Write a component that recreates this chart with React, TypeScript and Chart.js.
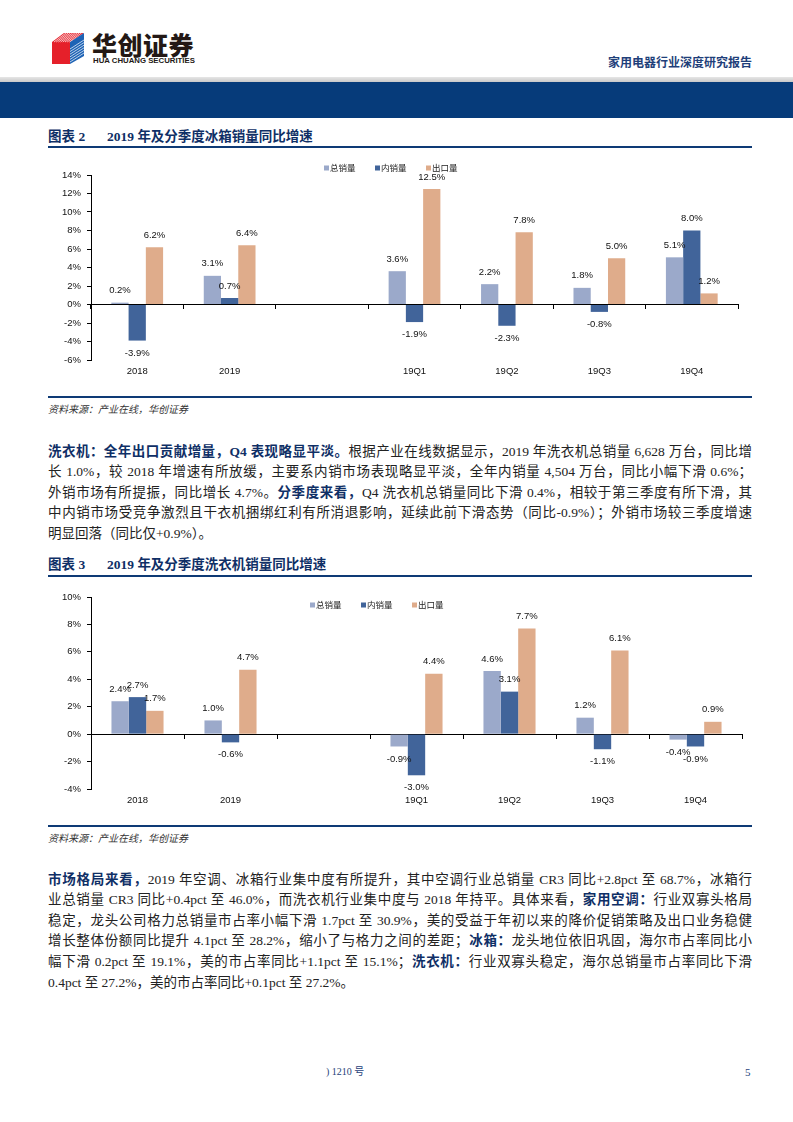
import React, { useEffect, useRef } from "react";
import { Chart, registerables } from "chart.js";

Chart.register(...registerables);

// ---------- data ----------
const seriesNames = ["总销量", "内销量", "出口量"];
const seriesColors = ["#9BA9CA", "#41649A", "#DFAC8B"];

const fridgeCategories = ["2018", "2019", "", "19Q1", "19Q2", "19Q3", "19Q4"];
const fridgeTotal = [0.2, 3.1, null, 3.6, 2.2, 1.8, 5.1];
const fridgeDomestic = [-3.9, 0.7, null, -1.9, -2.3, -0.8, 8.0];
const fridgeExport = [6.2, 6.4, null, 12.5, 7.8, 5.0, 1.2];
const fridgeAxis = [-6, 14, 2];

const washerCategories = ["2018", "2019", "", "19Q1", "19Q2", "19Q3", "19Q4"];
const washerTotal = [2.4, 1.0, null, -0.9, 4.6, 1.2, -0.4];
const washerDomestic = [2.7, -0.6, null, -3.0, 3.1, -1.1, -0.9];
const washerExport = [1.7, 4.7, null, 4.4, 7.7, 6.1, 0.9];
const washerAxis = [-4, 10, 2];

type Seg = [string, boolean?];

const para1: Seg[][] = [
  [["洗衣机：全年出口贡献增量，Q4 表现略显平淡。", true], ["根据产业在线数据显示，2019 年洗衣机总销量 6,628 万台，同比增"]],
  [["长 1.0%，较 2018 年增速有所放缓，主要系内销市场表现略显平淡，全年内销量 4,504 万台，同比小幅下滑 0.6%；"]],
  [["外销市场有所提振，同比增长 4.7%。"], ["分季度来看，", true], ["Q4 洗衣机总销量同比下滑 0.4%，相较于第三季度有所下滑，其"]],
  [["中内销市场受竞争激烈且干衣机捆绑红利有所消退影响，延续此前下滑态势（同比-0.9%）；外销市场较三季度增速"]],
  [["明显回落（同比仅+0.9%）。"]],
];

const para2: Seg[][] = [
  [["市场格局来看，", true], ["2019 年空调、冰箱行业集中度有所提升，其中空调行业总销量 CR3 同比+2.8pct 至 68.7%，冰箱行"]],
  [["业总销量 CR3 同比+0.4pct 至 46.0%，而洗衣机行业集中度与 2018 年持平。具体来看，"], ["家用空调：", true], ["行业双寡头格局"]],
  [["稳定，龙头公司格力总销量市占率小幅下滑 1.7pct 至 30.9%，美的受益于年初以来的降价促销策略及出口业务稳健"]],
  [["增长整体份额同比提升 4.1pct 至 28.2%，缩小了与格力之间的差距；"], ["冰箱：", true], ["龙头地位依旧巩固，海尔市占率同比小"]],
  [["幅下滑 0.2pct 至 19.1%，美的市占率同比+1.1pct 至 15.1%；"], ["洗衣机：", true], ["行业双寡头稳定，海尔总销量市占率同比下滑"]],
  [["0.4pct 至 27.2%，美的市占率同比+0.1pct 至 27.2%。"]],
];

// ---------- plugins ----------
const barLabelPlugin = {
  id: "barLabels",
  afterDatasetsDraw(chart: any) {
    const ctx = chart.ctx;
    ctx.save();
    ctx.font = "9.5px 'Liberation Sans', Arial, sans-serif";
    ctx.fillStyle = "#111";
    ctx.textAlign = "center";
    ctx.textBaseline = "middle";
    chart.data.datasets.forEach((ds: any, i: number) => {
      const meta = chart.getDatasetMeta(i);
      meta.data.forEach((el: any, j: number) => {
        const v = ds.data[j];
        if (v === null || v === undefined) return;
        const y = v >= 0 ? el.y - 12 : el.y + 12.5;
        ctx.fillText(v.toFixed(1) + "%", el.x, y);
      });
    });
    ctx.restore();
  },
};

const miniLegendPlugin = {
  id: "miniLegend",
  afterDraw(chart: any, _args: any, opts: any) {
    const { ctx, chartArea } = chart;
    ctx.save();
    ctx.font = "8.5px 'Noto Sans CJK SC', sans-serif";
    ctx.textBaseline = "middle";
    ctx.textAlign = "left";
    chart.data.datasets.forEach((ds: any, i: number) => {
      const x = chartArea.left + opts.x + i * opts.gap;
      const y = chartArea.top + opts.y;
      ctx.fillStyle = ds.backgroundColor;
      ctx.fillRect(x, y - 2.5, 5, 5);
      ctx.fillStyle = "#222";
      ctx.fillText(ds.label, x + 6, y);
    });
    ctx.restore();
  },
};

// ---------- chart component ----------
type ChartProps = {
  categories: string[];
  values: (number | null)[][];
  axis: number[];
  box: { left: number; top: number; width: number; height: number };
  pad: { left: number; right: number; top: number };
  xAxisHeight: number;
  legend: { x: number; y: number; gap: number };
};

function GrowthBarChart({ categories, values, axis, box, pad, xAxisHeight, legend }: ChartProps) {
  const ref = useRef<HTMLCanvasElement | null>(null);
  useEffect(() => {
    if (!ref.current) return;
    const tickFont = { family: "'Liberation Sans', Arial, sans-serif", size: 9.5 };
    const chart = new Chart(ref.current, {
      type: "bar",
      data: {
        labels: categories,
        datasets: values.map((v, i) => ({
          label: seriesNames[i],
          data: v,
          backgroundColor: seriesColors[i],
          borderWidth: 0,
          xAxisID: "x",
          yAxisID: "y",
          categoryPercentage: 0.56,
          barPercentage: 1.0,
        })),
      },
      options: {
        animation: false,
        responsive: true,
        maintainAspectRatio: false,
        layout: { padding: { left: pad.left, right: pad.right, top: pad.top, bottom: 0 } },
        plugins: {
          legend: { display: false },
          tooltip: { enabled: false },
          miniLegend: legend,
        } as any,
        scales: {
          x: {
            type: "category",
            position: "bottom",
            offset: true,
            grid: { display: false, drawTicks: false },
            border: { display: false },
            ticks: { font: tickFont, color: "#111", padding: 6, maxRotation: 0, autoSkip: false },
            afterFit: (s: any) => {
              s.height = xAxisHeight;
            },
          },
          x2: {
            type: "category",
            axis: "x",
            labels: categories,
            position: { y: 0 },
            offset: true,
            grid: { offset: true, drawOnChartArea: false, drawTicks: true, tickLength: 4, color: "#000" },
            border: { display: true, color: "#000", width: 1 },
            ticks: { display: false },
          },
          y: {
            min: axis[0],
            max: axis[1],
            grid: { drawOnChartArea: false, drawTicks: true, tickLength: 4, color: "#000" },
            border: { display: true, color: "#000", width: 1 },
            ticks: {
              stepSize: axis[2],
              font: tickFont,
              color: "#111",
              padding: 6,
              callback: (v: any) => v + "%",
            },
            afterFit: (s: any) => {
              s.width = 40;
            },
          },
        } as any,
      },
      plugins: [barLabelPlugin, miniLegendPlugin],
    });
    return () => chart.destroy();
  }, []);
  return (
    <div style={{ position: "absolute", left: box.left, top: box.top, width: box.width, height: box.height }}>
      <canvas ref={ref} />
    </div>
  );
}

// ---------- page pieces ----------
const navy = "#0F2F66";
const bodyFont = "'Liberation Serif', 'Noto Sans CJK SC', serif";

function Paragraph({ lines, top }: { lines: Seg[][]; top: number }) {
  return (
    <div style={{ position: "absolute", left: 48, top, width: 704, fontFamily: bodyFont, fontSize: 13.5, color: "#222" }}>
      {lines.map((line, i) => (
        <div
          key={i}
          style={{
            height: 20.6,
            lineHeight: "20.6px",
            whiteSpace: "nowrap",
            textAlign: i === lines.length - 1 ? "left" : "justify",
            textAlignLast: i === lines.length - 1 ? "left" : "justify",
          } as any}
        >
          {line.map((seg, k) =>
            seg[1] ? (
              <span key={k} style={{ fontWeight: "bold", color: navy }}>
                {seg[0]}
              </span>
            ) : (
              <span key={k}>{seg[0]}</span>
            )
          )}
        </div>
      ))}
    </div>
  );
}

function FigureTitle({ num, text, top }: { num: string; text: string; top: number }) {
  return (
    <div
      style={{
        position: "absolute",
        left: 48,
        top,
        height: 18,
        lineHeight: "18px",
        fontFamily: bodyFont,
        fontWeight: "bold",
        fontSize: 13.5,
        color: navy,
        whiteSpace: "nowrap",
      }}
    >
      <span>图表 {num}</span>
      <span style={{ position: "absolute", left: 59 }}>{text}</span>
    </div>
  );
}

function Rule({ top }: { top: number }) {
  return <div style={{ position: "absolute", left: 48, top, width: 704, height: 2, background: "#0E3A75" }} />;
}

function Source({ top }: { top: number }) {
  return (
    <div
      style={{
        position: "absolute",
        left: 48,
        top,
        fontFamily: "'Noto Sans CJK SC', sans-serif",
        fontStyle: "italic",
        fontSize: 10,
        lineHeight: "12px",
        color: "#333",
        whiteSpace: "nowrap",
      }}
    >
      资料来源：产业在线，华创证券
    </div>
  );
}

function Logo() {
  return (
    <div style={{ position: "absolute", left: 50, top: 30, width: 160, height: 40 }}>
      <svg width={36} height={36} viewBox="0 0 36 36" style={{ position: "absolute", left: 0, top: 2 }}>
        <polygon points="2,10 20,10 20,32 2,32" fill="#E5202A" />
        <polygon points="2,10 14,1 34,1 20,10" fill="#E5202A" />
        <polygon points="20,10 34,1 34,24 20,32" fill="#1E63B5" />
        {Array.from({ length: 8 }).map((_, i) => (
          <line key={i} x1={4 + i * 2.2} y1={10} x2={16 + i * 2.2} y2={1} stroke="#fff" strokeWidth={0.7} />
        ))}
        {Array.from({ length: 6 }).map((_, i) => (
          <line key={"b" + i} x1={20} y1={17 + i * 2.6} x2={34} y2={8 + i * 2.6} stroke="#fff" strokeWidth={0.7} />
        ))}
      </svg>
      <div
        style={{
          position: "absolute",
          left: 42,
          top: 0,
          fontFamily: "'Noto Sans CJK SC', sans-serif",
          fontWeight: 900,
          fontSize: 25,
          lineHeight: "28px",
          color: "#231815",
          letterSpacing: 0.5,
          whiteSpace: "nowrap",
        }}
      >
        华创证券
      </div>
      <div
        style={{
          position: "absolute",
          left: 43,
          top: 26,
          fontFamily: "'Liberation Sans Narrow', 'Liberation Sans', Arial, sans-serif",
          fontWeight: "bold",
          fontSize: 7.8,
          lineHeight: "10px",
          color: "#231815",
          whiteSpace: "nowrap",
        }}
      >
        HUA CHUANG SECURITIES
      </div>
    </div>
  );
}

export default function App() {
  return (
    <div
      style={{
        position: "absolute",
        left: 0,
        top: 0,
        width: 793,
        height: 1122,
        background: "#fff",
        overflow: "hidden",
      }}
    >
      <Logo />
      <div
        style={{
          position: "absolute",
          right: 41,
          top: 54,
          fontFamily: "'Noto Sans CJK SC', sans-serif",
          fontWeight: "bold",
          fontSize: 12,
          lineHeight: "16px",
          color: "#1F3F7A",
          whiteSpace: "nowrap",
        }}
      >
        家用电器行业深度研究报告
      </div>
      <div style={{ position: "absolute", left: 0, top: 77, width: 793, height: 5, background: "linear-gradient(#e6e6e6,#c8c8c8)" }} />
      <div style={{ position: "absolute", left: 0, top: 82, width: 793, height: 36, background: "#063B7A" }} />

      <FigureTitle num="2" text="2019 年及分季度冰箱销量同比增速" top={128} />
      <Rule top={146} />
      <GrowthBarChart
        categories={fridgeCategories}
        values={[fridgeTotal, fridgeDomestic, fridgeExport]}
        axis={fridgeAxis}
        box={{ left: 40, top: 160, width: 720, height: 225 }}
        pad={{ left: 11, right: 22, top: 15 }}
        xAxisHeight={25}
        legend={{ x: 233, y: -7, gap: 51 }}
      />
      <Rule top={396} />
      <Source top={403} />

      <Paragraph lines={para1} top={441.5} />

      <FigureTitle num="3" text="2019 年及分季度洗衣机销量同比增速" top={556} />
      <Rule top={575} />
      <GrowthBarChart
        categories={washerCategories}
        values={[washerTotal, washerDomestic, washerExport]}
        axis={washerAxis}
        box={{ left: 40, top: 580, width: 720, height: 230 }}
        pad={{ left: 11, right: 18, top: 17 }}
        xAxisHeight={21}
        legend={{ x: 219, y: 8, gap: 51 }}
      />
      <Rule top={825} />
      <Source top={832} />

      <Paragraph lines={para2} top={869.7} />

      <div
        style={{
          position: "absolute",
          left: 326,
          top: 1065,
          fontFamily: bodyFont,
          fontSize: 10,
          lineHeight: "14px",
          color: "#1F3F7A",
          whiteSpace: "nowrap",
        }}
      >
        ) 1210 号
      </div>
      <div
        style={{
          position: "absolute",
          left: 745,
          top: 1065,
          fontFamily: bodyFont,
          fontSize: 11,
          lineHeight: "14px",
          color: "#1F3F7A",
        }}
      >
        5
      </div>
    </div>
  );
}
